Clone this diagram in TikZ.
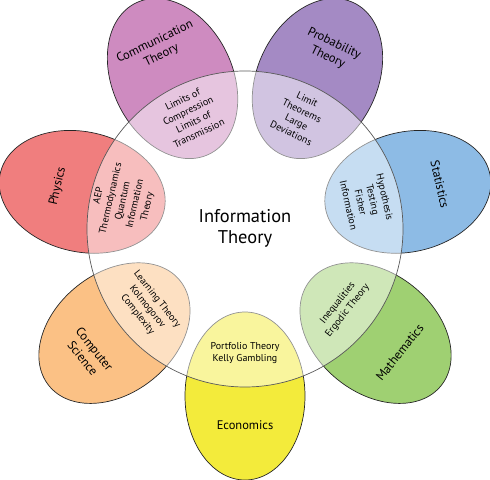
\documentclass[tikz,border=0pt]{standalone}
\usepackage{fontspec}
\setmainfont{PT Sans}
\usetikzlibrary{shapes.geometric}

\definecolor{commcol}{HTML}{CE8BC0}
\definecolor{probcol}{HTML}{A48AC4}
\definecolor{statcol}{HTML}{8DBBE5}
\definecolor{mathcol}{HTML}{9FD072}
\definecolor{econcol}{HTML}{F3EB3B}
\definecolor{compcol}{HTML}{FBC185}
\definecolor{physcol}{HTML}{F07E7E}

\tikzset{
  field/.style={ellipse, draw=black!85, line width=0.7pt, minimum width=168bp,
    minimum height=120bp, inner sep=0pt},
  outerlab/.style={font=\fontsize{12.5}{15}\selectfont, align=center, inner sep=0pt},
  innerlab/.style={font=\fontsize{10}{12.5}\selectfont, align=center, inner sep=0pt},
}

\begin{document}
\begin{tikzpicture}[x=1bp,y=1bp]
    \useasboundingbox (-245,-251) rectangle (245,229);

    % the seven fields
    \node[field, fill=econcol, rotate=-90] (econ) at (-90:167) {};
    \node[field, fill=mathcol, rotate=-38.571] (math) at (-38.571:167) {};
    \node[field, fill=statcol, rotate=12.857] (stat) at (12.857:167) {};
    \node[field, fill=probcol, rotate=64.286] (prob) at (64.286:167) {};
    \node[field, fill=commcol, rotate=115.714] (comm) at (115.714:167) {};
    \node[field, fill=physcol, rotate=167.143] (phys) at (167.143:167) {};
    \node[field, fill=compcol, rotate=218.571] (comp) at (218.571:167) {};

    % information theory
    \node[circle, minimum size=316bp, inner sep=0pt, fill=white, fill opacity=0.5,
      draw=black!65, line width=0.7pt] (info) at (0,0) {};
    \node[font=\fontsize{18.5}{21}\selectfont, align=center] (title) at (0,1) {Information\\Theory};

    % outer labels
    \node[outerlab] (econlab) at (-90:196) {Economics};
    \node[outerlab, rotate=51.429] (mathlab) at (-38.571:198) {Mathematics};
    \node[outerlab, rotate=-77.143] (statlab) at (12.857:200) {Statistics};
    \node[outerlab, rotate=-25.714] (problab) at (64.286:198) {Probability\\Theory};
    \node[outerlab, rotate=25.714] (commlab) at (115.714:200) {Communication\\Theory};
    \node[outerlab, rotate=77.143] (physlab) at (167.143:192) {Physics};
    \node[outerlab, rotate=-51.429] (complab) at (218.571:200) {Computer\\Science};

    % shared parts
    \node[innerlab] (econin) at (-90:124) {Portfolio Theory\\Kelly Gambling};
    \node[innerlab, rotate=51.429] (mathin) at (-38.571:125) {Inequalities\\Ergodic Theory};
    \node[innerlab, rotate=-77.143] (statin) at (12.857:125) {Hypothesis\\Testing\\Fisher\\Information};
    \node[innerlab, rotate=-25.714] (probin) at (64.286:125) {Limit\\Theorems\\Large\\Deviations};
    \node[innerlab, rotate=25.714] (commin) at (115.714:125) {Limits of\\Compression\\Limits of\\Transmission};
    \node[innerlab, rotate=77.143] (physin) at (167.143:125) {AEP\\Thermodynamics\\Quantum\\Information\\Theory};
    \node[innerlab, rotate=-51.429] (compin) at (218.571:125) {Learning Theory\\Kolmogorov\\Complexity};

\end{tikzpicture}
\end{document}
